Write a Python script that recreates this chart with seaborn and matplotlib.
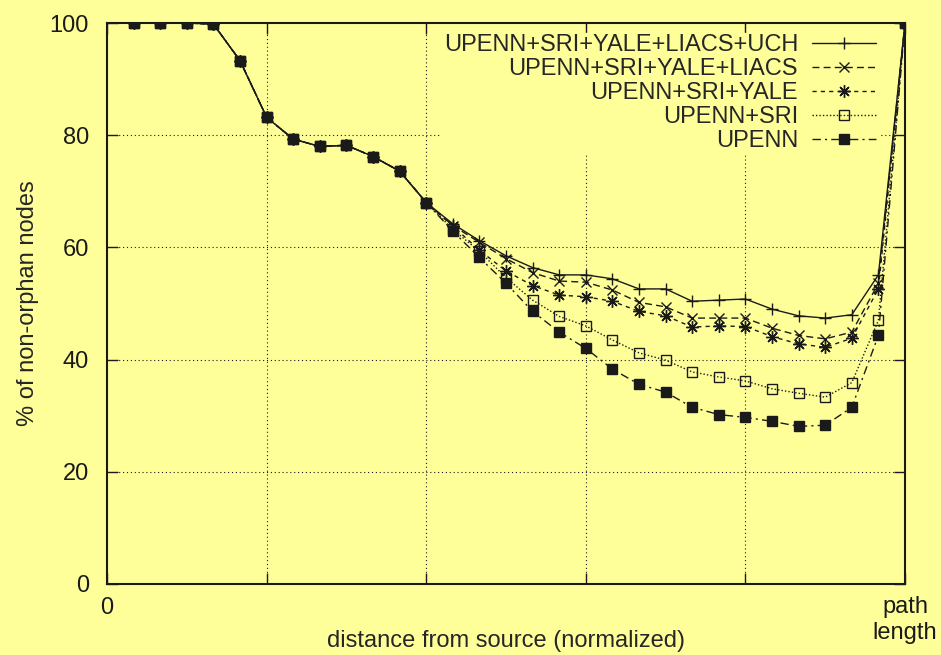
import matplotlib
matplotlib.use("Agg")
import matplotlib.pyplot as plt
import seaborn as sns
import pandas as pd

# x positions: 30 samples along the normalized path
steps = list(range(1, 31))

shared_head = [100.0, 100.0, 100.0, 99.8, 93.3, 83.2, 79.3, 78.0, 78.2, 76.2, 73.6, 68.0]

uch = shared_head + [64.2, 61.2, 58.5, 56.4, 55.1, 55.1, 54.4, 52.6, 52.6, 50.4, 50.6, 50.8,
                     49.0, 47.8, 47.4, 48.0, 55.1, 100.0]
liacs = shared_head + [63.9, 60.9, 58.0, 55.5, 54.0, 53.8, 52.4, 50.2, 49.4, 47.4, 47.4, 47.4,
                       45.6, 44.3, 43.7, 44.9, 53.6, 100.0]
yale = shared_head + [63.8, 59.5, 55.8, 53.2, 51.5, 51.2, 50.4, 48.6, 47.8, 45.8, 46.0, 45.9,
                      44.1, 42.8, 42.2, 43.8, 52.6, 100.0]
sri = shared_head + [63.2, 59.3, 54.6, 50.6, 47.7, 46.0, 43.5, 41.2, 39.9, 37.8, 36.9, 36.2,
                     34.8, 34.0, 33.3, 35.9, 47.0, 100.0]
upenn = shared_head + [62.9, 58.2, 53.6, 48.6, 44.9, 42.0, 38.3, 35.6, 34.2, 31.5, 30.2, 29.7,
                       29.0, 28.1, 28.3, 31.5, 44.3, 100.0]

series_names = ["UPENN+SRI+YALE+LIACS+UCH", "UPENN+SRI+YALE+LIACS",
                "UPENN+SRI+YALE", "UPENN+SRI", "UPENN"]
series_values = [uch, liacs, yale, sri, upenn]

x_tick_labels = ["0", "", "", "", "", "path\nlength"]
y_ticks = [0, 20, 40, 60, 80, 100]

bg = "#ffff99"

sns.set_theme(style="ticks")
plt.rcParams["font.family"] = ["Liberation Sans", "DejaVu Sans"]
plt.rcParams["font.size"] = 17

frames = []
for name, vals in zip(series_names, series_values):
    frames.append(pd.DataFrame({"x": [s / 30 for s in steps], "y": vals, "series": name}))
df = pd.concat(frames, ignore_index=True)

styles = {
    "UPENN+SRI+YALE+LIACS+UCH": dict(linestyle="-", marker="+", ms=9, mew=1.0, mfc="k"),
    "UPENN+SRI+YALE+LIACS": dict(linestyle=(0, (5, 3)), marker="x", ms=7, mew=1.0, mfc="k"),
    "UPENN+SRI+YALE": dict(linestyle=(0, (3, 3)), marker=(8, 2, 0), ms=9, mew=1.0, mfc="k"),
    "UPENN+SRI": dict(linestyle=(0, (1, 1.5)), marker="s", ms=7, mew=1.0, mfc="none"),
    "UPENN": dict(linestyle=(0, (6, 3, 1.5, 3)), marker="s", ms=7, mew=1.0, mfc="k"),
}

fig = plt.figure(figsize=(9.41, 6.55), dpi=100, facecolor=bg)
ax = fig.add_axes([107 / 941, 1 - 584 / 655, (905 - 107) / 941, (584 - 23) / 655])
ax.set_facecolor(bg)

for g in [0.2, 0.4, 0.6, 0.8]:
    ax.axvline(g, color="k", lw=0.8, linestyle=(0, (1, 2.5)), zorder=1)
for g in [20, 40, 60, 80]:
    ax.axhline(g, color="k", lw=0.8, linestyle=(0, (1, 2.5)), zorder=1)

for name in series_names:
    sub = df[df["series"] == name]
    sns.lineplot(data=sub, x="x", y="y", ax=ax, color="k", lw=1.0, mec="k",
                 label=name, zorder=3, **styles[name])

ax.set_xlim(0, 1)
ax.set_ylim(0, 100)
ax.set_xticks([0, 0.2, 0.4, 0.6, 0.8, 1.0])
ax.set_xticklabels(x_tick_labels)
ax.set_yticks(y_ticks)
ax.tick_params(direction="in", length=8, width=1, top=True, right=True,
               labelsize=17, colors="k")
ax.tick_params(axis="x", pad=9)
ax.tick_params(axis="y", pad=13)
for sp in ax.spines.values():
    sp.set_linewidth(1.5)
    sp.set_color("k")
ax.set_xlabel("distance from source (normalized)", fontsize=17)
ax.xaxis.set_label_coords(0.5, -0.082)
ax.xaxis.label.set_va("top")
ax.set_ylabel("% of non-orphan nodes", fontsize=17)
ax.yaxis.set_label_coords(-0.085, 0.5)

leg = ax.legend(loc="upper right", bbox_to_anchor=(0.966, 0.983), markerfirst=False,
                frameon=True, fancybox=False, facecolor=bg, edgecolor=bg, framealpha=1,
                handlelength=2.7, handletextpad=0.6, labelspacing=0.08, borderpad=0.08,
                borderaxespad=0, fontsize=17)

fig.savefig("out.png", dpi=100, facecolor=bg)
